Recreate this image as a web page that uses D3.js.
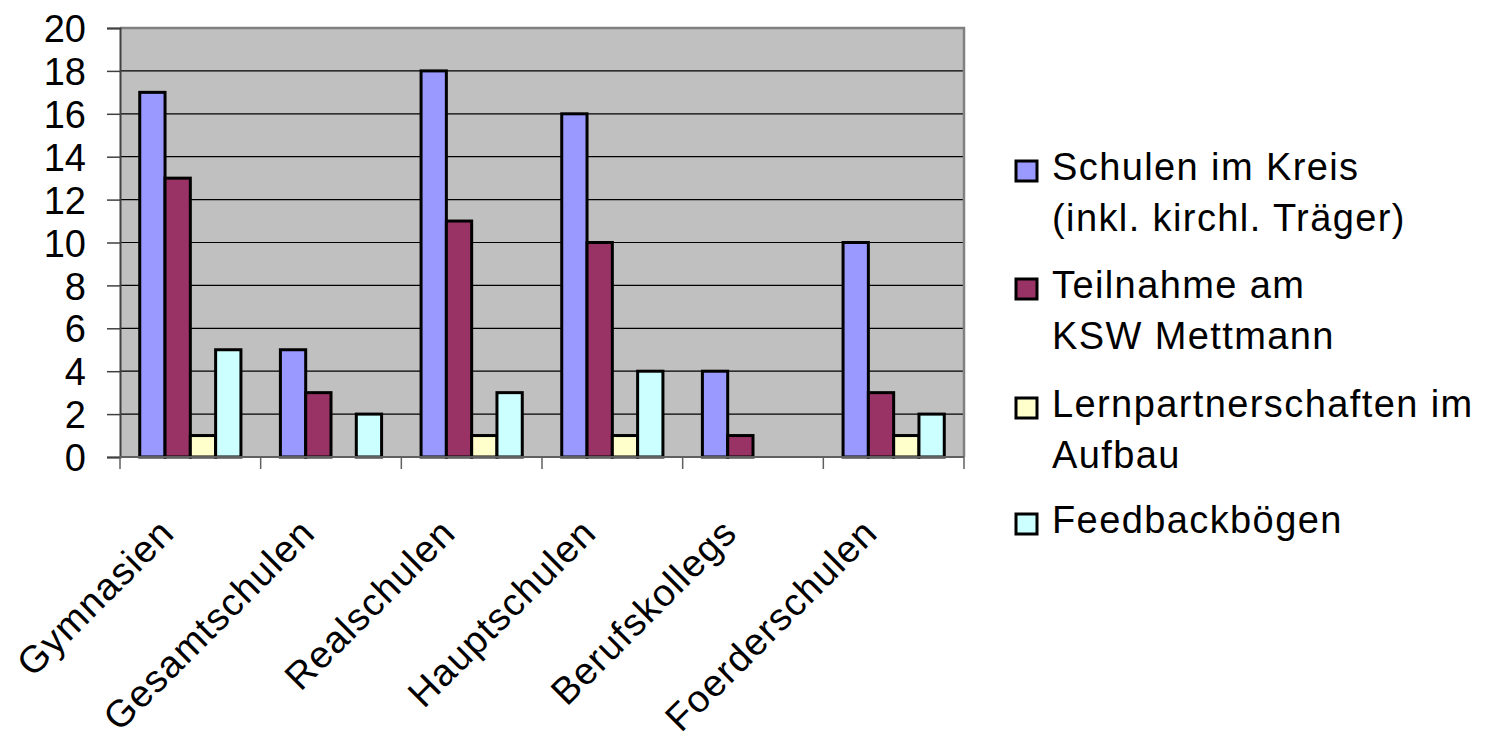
<!DOCTYPE html>
<html>
<head>
<meta charset="utf-8">
<script src="https://cdn.jsdelivr.net/npm/d3@7"></script>
<style>
  body { margin: 0; background: #fff; }
  text { font-family: "Liberation Sans", Arial, sans-serif; fill: #000; }
</style>
</head>
<body>
<div id="chart"></div>
<script>
// chart data
var categories = ["Gymnasien", "Gesamtschulen", "Realschulen", "Hauptschulen", "Berufskollegs", "Foerderschulen"];
var seriesNames = [
    ["Schulen im Kreis", "(inkl. kirchl. Träger)"],
    ["Teilnahme am", "KSW Mettmann"],
    ["Lernpartnerschaften im", "Aufbau"],
    ["Feedbackbögen"]
];
var schulen      = [17, 5, 18, 16, 4, 10];
var teilnahme    = [13, 3, 11, 10, 1, 3];
var lernpartner  = [1, 0, 1, 1, 0, 1];
var feedback     = [5, 2, 3, 4, 0, 2];
var yTicks = [0, 2, 4, 6, 8, 10, 12, 14, 16, 18, 20];

var series = [schulen, teilnahme, lernpartner, feedback];
var colors = ["#9999FF", "#993366", "#FFFFCC", "#CCFFFF"];

var width = 1487, height = 732,
    plot = {left: 120, right: 964, top: 28, bottom: 457};

var svg = d3.select("#chart").append("svg")
    .attr("width", width).attr("height", height);

var x = d3.scaleBand().domain(categories).range([plot.left, plot.right]);
var x1 = d3.scaleBand().domain(d3.range(series.length))
    .range([0, x.bandwidth()]).paddingInner(0).paddingOuter(0.78);
var y = d3.scaleLinear().domain([0, 20]).range([plot.bottom, plot.top]);

// plot background
svg.append("rect")
    .attr("x", plot.left).attr("y", plot.top)
    .attr("width", plot.right - plot.left).attr("height", plot.bottom - plot.top)
    .attr("fill", "#C0C0C0");

// gridlines
svg.append("g").selectAll("line")
    .data(yTicks.filter(function(d) { return d > 0 && d < 20; }))
    .join("line")
    .attr("x1", plot.left).attr("x2", plot.right)
    .attr("y1", function(d) { return y(d); }).attr("y2", function(d) { return y(d); })
    .attr("stroke", "#000").attr("stroke-width", 1.2);

// border top/right
svg.append("path")
    .attr("d", "M" + plot.left + "," + plot.top + "H" + plot.right + "V" + plot.bottom)
    .attr("fill", "none").attr("stroke", "#808080").attr("stroke-width", 2.5);

// bars
var groups = svg.append("g").selectAll("g")
    .data(categories)
    .join("g")
    .attr("transform", function(d) { return "translate(" + x(d) + ",0)"; });

groups.selectAll("rect")
    .data(function(d, i) {
        return series.map(function(s, k) { return {k: k, v: s[i]}; })
            .filter(function(e) { return e.v > 0; });
    })
    .join("rect")
    .attr("x", function(d) { return x1(d.k); })
    .attr("width", x1.bandwidth())
    .attr("y", function(d) { return y(d.v); })
    .attr("height", function(d) { return y(0) - y(d.v); })
    .attr("fill", function(d) { return colors[d.k]; })
    .attr("stroke", "#000").attr("stroke-width", 3);

// y axis
var yAxis = svg.append("g")
    .attr("transform", "translate(" + plot.left + ",0)")
    .call(d3.axisLeft(y).tickValues(yTicks).tickSize(13).tickPadding(21));
yAxis.select(".domain").attr("stroke", "#404040").attr("stroke-width", 2);
yAxis.selectAll(".tick line").attr("stroke", "#404040").attr("stroke-width", 1.5);
yAxis.selectAll(".tick text")
    .style("font-family", '"Liberation Sans", Arial, sans-serif')
    .attr("font-size", 38).attr("dy", "0.36em").attr("fill", "#000");

// x axis
var xTickPos = categories.map(function(c) { return x(c); }).concat([plot.right]);
svg.append("line")
    .attr("x1", plot.left).attr("x2", plot.right)
    .attr("y1", plot.bottom).attr("y2", plot.bottom)
    .attr("stroke", "#606060").attr("stroke-width", 2);
svg.append("g").selectAll("line")
    .data(xTickPos)
    .join("line")
    .attr("x1", function(d) { return d; }).attr("x2", function(d) { return d; })
    .attr("y1", plot.bottom).attr("y2", plot.bottom + 12)
    .attr("stroke", "#606060").attr("stroke-width", 1.5);

svg.append("g").selectAll("text")
    .data(categories)
    .join("text")
    .attr("transform", function(d) {
        return "translate(" + (x(d) + x.bandwidth() / 2 - 14) + ",535) rotate(-45)";
    })
    .attr("text-anchor", "end")
    .attr("font-size", 38)
    .attr("letter-spacing", 1.2)
    .text(function(d) { return d; });

// legend
var legendBase = [180, 298, 417, 533];
var legend = svg.append("g").selectAll("g")
    .data(seriesNames)
    .join("g")
    .attr("transform", function(d, i) { return "translate(1015," + legendBase[i] + ")"; });

legend.append("rect")
    .attr("x", 1).attr("y", -19)
    .attr("width", 21).attr("height", 20)
    .attr("fill", function(d, i) { return colors[i]; })
    .attr("stroke", "#000").attr("stroke-width", 3);

legend.append("text")
    .attr("x", 37)
    .attr("font-size", 38)
    .attr("letter-spacing", 1.4)
    .selectAll("tspan")
    .data(function(d) { return d; })
    .join("tspan")
    .attr("x", 37)
    .attr("dy", function(d, i) { return i === 0 ? 0 : 51; })
    .text(function(d) { return d; });
</script>
</body>
</html>
